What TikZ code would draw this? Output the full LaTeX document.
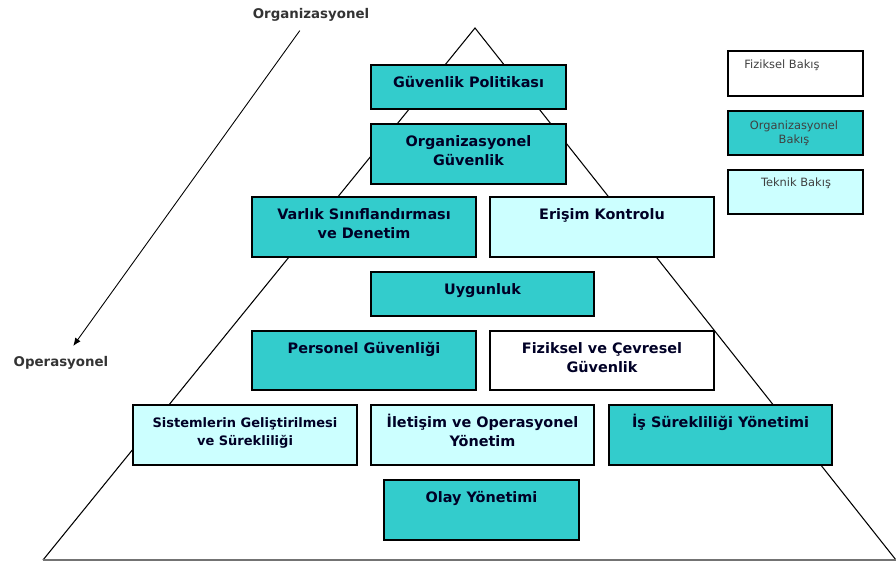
\documentclass[tikz,border=0pt]{standalone}
\usepackage{fontspec}
\setmainfont{DejaVu Sans}
\usetikzlibrary{arrows.meta, positioning, backgrounds}
\definecolor{orgteal}{RGB}{51,204,204}
\definecolor{techcyan}{RGB}{204,255,255}

\begin{document}
\begin{tikzpicture}[
    box/.style={rectangle, draw, line width=0.8pt, fill=#1, minimum height=1.2cm},
    title/.style={anchor=base, align=center, font=\fontsize{8.2}{11.2}\selectfont\bfseries, text=black!85!blue},
    legend/.style={anchor=base, align=center, font=\fontsize{6.5}{8.5}\selectfont, text=black!75},
    side/.style={font=\fontsize{7.6}{9}\selectfont\bfseries, text=black!80},
    arrow/.style={-{Latex[length=1.6mm, width=1.3mm]}, line width=0.5pt},
]
\useasboundingbox (0,0) rectangle (17.92,-11.26);

% Pyramid
\coordinate (apex) at (9.5,-0.56);
\coordinate (baseL) at (0.86,-11.2);
\coordinate (baseR) at (17.92,-11.2);
\draw[line width=0.6pt] (baseL) -- (apex) -- (baseR);
\draw[line width=1.3pt, black!55] (baseL) -- (baseR);

% Boxes (two-line texts sit on their last baseline)
\node[box=orgteal, minimum width=3.9cm, minimum height=0.88cm] (pol) at (9.37,-1.74) {};
\node[title] at (9.37,-1.74) {Güvenlik Politikası};

\node[box=orgteal, minimum width=3.9cm] (orgsec) at (9.37,-3.08) {};
\node[title] at (9.37,-3.315) {Organizasyonel\\Güvenlik};

\node[box=orgteal, minimum width=4.48cm] (asset) at (7.28,-4.54) {};
\node[title] at (7.28,-4.775) {Varlık Sınıflandırması\\ve Denetim};

\node[box=techcyan, minimum width=4.48cm] (access) at (12.04,-4.54) {};
\node[title] at (12.04,-4.38) {Erişim Kontrolu};

\node[box=orgteal, minimum width=4.46cm, minimum height=0.88cm] (comp) at (9.65,-5.88) {};
\node[title] at (9.65,-5.88) {Uygunluk};

\node[box=orgteal, minimum width=4.48cm, minimum height=1.18cm] (staff) at (7.28,-7.21) {};
\node[title] at (7.28,-7.06) {Personel Güvenliği};

\node[box=white, minimum width=4.48cm, minimum height=1.18cm] (phys) at (12.04,-7.21) {};
\node[title] at (12.04,-7.455) {Fiziksel ve Çevresel\\Güvenlik};

\node[box=techcyan, minimum width=4.48cm] (sysdev) at (4.9,-8.7) {};
\node[title, font=\fontsize{7.4}{10.5}\selectfont\bfseries] at (4.9,-8.91) {Sistemlerin Geliştirilmesi\\ve Sürekliliği};

\node[box=techcyan, minimum width=4.46cm] (comops) at (9.65,-8.7) {};
\node[title] at (9.65,-8.935) {İletişim ve Operasyonel\\Yönetim};

\node[box=orgteal, minimum width=4.46cm] (bcm) at (14.41,-8.7) {};
\node[title] at (14.41,-8.54) {İş Sürekliliği Yönetimi};

\node[box=orgteal, minimum width=3.9cm] (incident) at (9.63,-10.2) {};
\node[title] at (9.63,-10.04) {Olay Yönetimi};

% Legend
\node[box=white, minimum width=2.7cm, minimum height=0.9cm] (lgphys) at (15.91,-1.47) {};
\node[legend] at (15.64,-1.38) {Fiziksel Bakış};
\node[box=orgteal, minimum width=2.7cm, minimum height=0.88cm] (lgorg) at (15.91,-2.66) {};
\node[legend] at (15.88,-2.88) {Organizasyonel\\Bakış};
\node[box=techcyan, minimum width=2.7cm, minimum height=0.88cm] (lgtech) at (15.91,-3.84) {};
\node[legend] at (15.92,-3.74) {Teknik Bakış};

% Axis
\node[side] (orgl) at (6.22,-0.3) {Organizasyonel};
\node[side] (opl) at (1.22,-7.26) {Operasyonel};
\draw[arrow, shorten <=2pt, shorten >=3pt] (orgl) -- (opl);

\end{tikzpicture}
\end{document}
